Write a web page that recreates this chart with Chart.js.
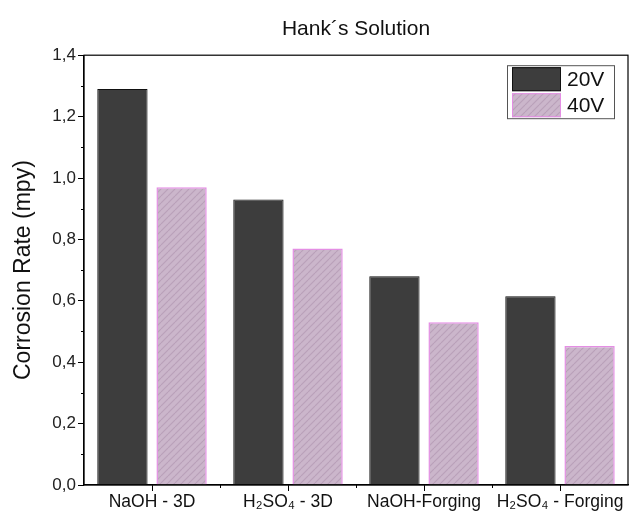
<!DOCTYPE html>
<html>
<head>
<meta charset="utf-8">
<script src="https://cdn.jsdelivr.net/npm/chart.js@4"></script>
<style>
  html, body { margin: 0; padding: 0; background: #fff; }
  #wrap { width: 629px; height: 517px; }
</style>
</head>
<body>
<div id="wrap"><canvas id="bar-chart" width="629" height="517"></canvas></div>
<script>
// ---------------- data ----------------
const categories = ['NaOH - 3D', 'H\u2082SO\u2084 - 3D', 'NaOH-Forging', 'H\u2082SO\u2084 - Forging']
const seriesNames = ['20V', '40V']
const rate20V = [1.29, 0.93, 0.68, 0.615]
const rate40V = [0.97, 0.77, 0.53, 0.453]
const yTicks = [0, 0.2, 0.4, 0.6, 0.8, 1.0, 1.2, 1.4]

const FONT = '"Liberation Sans", Arial, sans-serif'

// hatched fill for the 40V bars
function makeHatch() {
  const c = document.createElement('canvas')
  c.width = 7
  c.height = 7
  const g = c.getContext('2d')
  g.fillStyle = '#cbb6cb'
  g.fillRect(0, 0, 7, 7)
  g.strokeStyle = '#b9a0b9'
  g.lineWidth = 1.2
  for (let k = -7; k <= 14; k += 7) {
    g.beginPath()
    g.moveTo(k, 7)
    g.lineTo(k + 7, 0)
    g.stroke()
  }
  return g.createPattern(c, 'repeat')
}

const ctx = document.getElementById('bar-chart').getContext('2d')
const hatch = makeHatch()

// frame, minor ticks and the boxed legend
const extras = {
  id: 'extras',
  afterDraw(chart) {
    const { ctx, chartArea: a, scales } = chart
    ctx.save()
    ctx.strokeStyle = '#000'
    ctx.lineWidth = 1.2
    ctx.strokeRect(a.left, a.top, a.right - a.left, a.bottom - a.top)

    // minor y ticks
    ctx.lineWidth = 1
    for (let i = 0; i < yTicks.length - 1; i++) {
      const y = Math.round(scales.y.getPixelForValue((yTicks[i] + yTicks[i + 1]) / 2)) + 0.5
      ctx.beginPath()
      ctx.moveTo(a.left - 3, y)
      ctx.lineTo(a.left, y)
      ctx.stroke()
    }
    // minor x ticks between categories
    for (let i = 0; i < categories.length - 1; i++) {
      const x = Math.round((scales.x.getPixelForValue(i) + scales.x.getPixelForValue(i + 1)) / 2) + 0.5
      ctx.beginPath()
      ctx.moveTo(x, a.bottom)
      ctx.lineTo(x, a.bottom + 3)
      ctx.stroke()
    }

    // legend box
    const lx = a.right - 121, ly = a.top + 10, lw = 107, lh = 53
    ctx.fillStyle = '#fff'
    ctx.fillRect(lx, ly, lw, lh)
    ctx.strokeStyle = '#555'
    ctx.lineWidth = 1
    ctx.strokeRect(lx + 0.5, ly + 0.5, lw, lh)
    chart.data.datasets.forEach((ds, i) => {
      const sy = ly + 2 + i * 26
      ctx.fillStyle = ds.backgroundColor
      ctx.fillRect(lx + 5, sy, 49, 24)
      ctx.strokeStyle = ds.borderColor
      ctx.strokeRect(lx + 5.5, sy + 0.5, 48, 23)
      ctx.fillStyle = '#111'
      ctx.font = '21px ' + FONT
      ctx.textBaseline = 'middle'
      ctx.fillText(ds.label, lx + 60, sy + 13)
    })
    ctx.restore()
  },
}

const myChart = new Chart(ctx, {
  type: 'bar',
  data: {
    labels: categories,
    datasets: [
      {
        label: seriesNames[0],
        data: rate20V,
        backgroundColor: '#3d3d3d',
        borderColor: '#111111',
        borderWidth: 1,
      },
      {
        label: seriesNames[1],
        data: rate40V,
        backgroundColor: hatch,
        borderColor: '#e48ee4',
        borderWidth: 1.5,
      },
    ],
  },
  options: {
    responsive: false,
    animation: false,
    layout: { padding: { left: 10, right: 1, top: 0, bottom: 0 } },
    categoryPercentage: 0.87,
    barPercentage: 0.85,
    plugins: {
      legend: { display: false },
      tooltip: { enabled: false },
      title: {
        display: true,
        fullSize: false,
        text: 'Hank\u00b4s Solution',
        color: '#111',
        font: { family: FONT, size: 21, weight: 'normal' },
        padding: { top: 17, bottom: 13 },
      },
    },
    scales: {
      x: {
        grid: { display: true, drawOnChartArea: false, offset: false, tickLength: 6, color: '#000' },
        border: { color: '#000', width: 1.2 },
        ticks: { color: '#111', font: { family: FONT, size: 17.5 }, padding: 1, maxRotation: 0, autoSkip: false },
        afterFit: (s) => { s.height = 32; s.paddingLeft = 0; s.paddingRight = 0 },
      },
      y: {
        min: 0,
        max: 1.4,
        afterBuildTicks: (s) => { s.ticks = yTicks.map((v) => ({ value: v })) },
        grid: { display: true, drawOnChartArea: false, tickLength: 6, color: '#000' },
        border: { color: '#000', width: 1.2 },
        ticks: {
          color: '#222',
          font: { family: FONT, size: 17 },
          padding: 2,
          callback: (v) => v.toFixed(1).replace('.', ','),
        },
        title: {
          display: true,
          text: 'Corrosion Rate (mpy)',
          color: '#111',
          font: { family: FONT, size: 23 },
          padding: { top: 0, bottom: 4 },
        },
        afterFit: (s) => { s.width = 74 },
      },
    },
  },
  plugins: [extras],
})
</script>
</body>
</html>
